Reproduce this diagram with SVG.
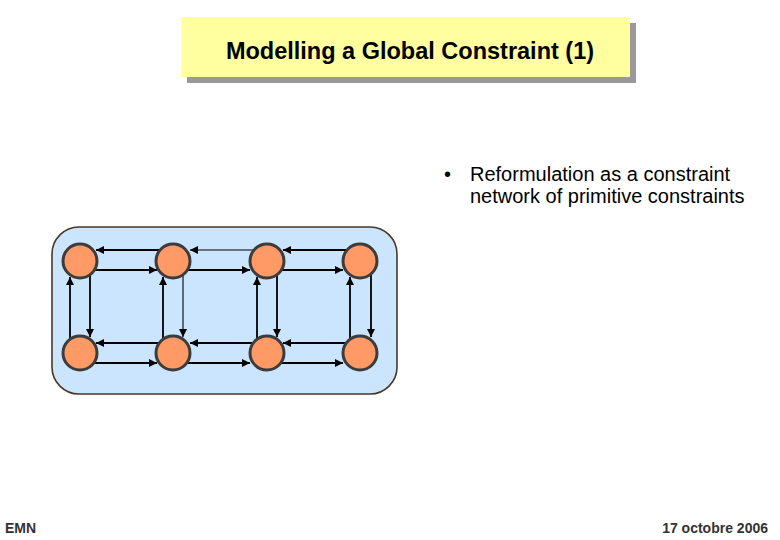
<svg xmlns="http://www.w3.org/2000/svg" width="780" height="540" viewBox="0 0 780 540">
<style>
.node{fill:#FF9966;stroke:#3c3c3c;stroke-width:3}
.c{stroke:#000;stroke-width:1.8;fill:none;marker-end:url(#ah)}
.t{stroke-width:1.1}
.txt{font-family:"Liberation Sans",Arial,sans-serif}
</style>
<defs>
<marker id="ah" markerUnits="userSpaceOnUse" markerWidth="9" markerHeight="8" refX="8" refY="4" orient="auto">
<path d="M0,0 L8,4 L0,8 Z" fill="#000"/>
</marker>
</defs>
<rect width="780" height="540" fill="#fff"/>
<g id="title">
<rect x="187" y="23" width="449" height="60" fill="#999"/>
<rect x="181" y="17" width="449" height="60" fill="#FFFF9F"/>
<text x="410" y="59" class="txt" font-size="23.5" font-weight="bold" text-anchor="middle">Modelling a Global Constraint (1)</text>
</g>
<g id="bullet">
<text x="444" y="181" class="txt" font-size="20">•</text>
<text x="470" y="181" class="txt" font-size="20">Reformulation as a constraint</text>
<text x="470" y="203" class="txt" font-size="20">network of primitive constraints</text>
</g>
<g id="network">
<rect x="52" y="227" width="345" height="167" rx="27" ry="27" fill="#CCE5FF" stroke="#4a3826" stroke-width="1.6"/>
</g>
<g id="connectors">
<line class="c" x1="159" y1="250" x2="96" y2="250"/>
<line class="c" x1="94" y1="270" x2="157" y2="270"/>
<line class="c t" x1="253" y1="250" x2="190" y2="250"/>
<line class="c" x1="187" y1="270" x2="250" y2="270"/>
<line class="c" x1="346" y1="250" x2="283" y2="250"/>
<line class="c" x1="281" y1="270" x2="343" y2="270"/>
<line class="c" x1="159" y1="343" x2="96" y2="343"/>
<line class="c" x1="94" y1="363" x2="157" y2="363"/>
<line class="c" x1="253" y1="343" x2="190" y2="343"/>
<line class="c" x1="187" y1="363" x2="250" y2="363"/>
<line class="c" x1="346" y1="343" x2="283" y2="343"/>
<line class="c" x1="281" y1="363" x2="343" y2="363"/>
<line class="c" x1="70" y1="339" x2="70" y2="277"/>
<line class="c" x1="90" y1="275" x2="90" y2="337"/>
<line class="c" x1="163" y1="339" x2="163" y2="277"/>
<line class="c t" x1="183" y1="275" x2="183" y2="337"/>
<line class="c" x1="257" y1="339" x2="257" y2="277"/>
<line class="c" x1="277" y1="275" x2="277" y2="337"/>
<line class="c" x1="350" y1="339" x2="350" y2="277"/>
<line class="c" x1="371" y1="275" x2="371" y2="337"/>
</g>
<g id="n1"><circle class="node" cx="80" cy="261" r="17"/></g>
<g id="n2"><circle class="node" cx="173" cy="261" r="17"/></g>
<g id="n3"><circle class="node" cx="267" cy="261" r="17"/></g>
<g id="n4"><circle class="node" cx="360" cy="261" r="17"/></g>
<g id="n5"><circle class="node" cx="80" cy="353" r="17"/></g>
<g id="n6"><circle class="node" cx="173" cy="353" r="17"/></g>
<g id="n7"><circle class="node" cx="267" cy="353" r="17"/></g>
<g id="n8"><circle class="node" cx="360" cy="353" r="17"/></g>
<g id="footer">
<text x="5" y="533" class="txt" font-size="14" font-weight="bold" fill="#333">EMN</text>
<text x="768" y="533" class="txt" font-size="14" font-weight="bold" fill="#333" text-anchor="end">17 octobre 2006</text>
</g>
</svg>
